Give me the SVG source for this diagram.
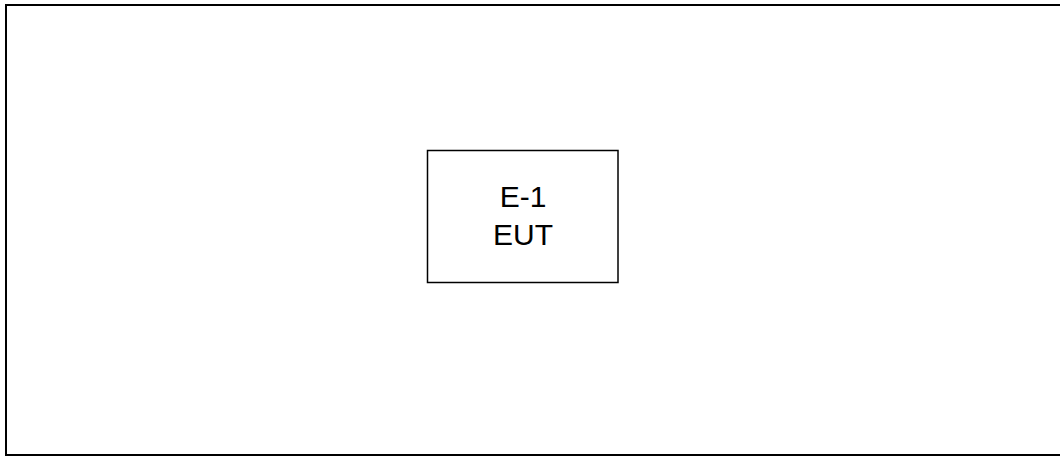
<svg xmlns="http://www.w3.org/2000/svg" width="1060" height="457" viewBox="0 0 1060 457">
<style>
.box{fill:#fff;stroke:#000;stroke-width:1.5}
.lbl{font-family:"Liberation Sans",Arial,sans-serif;font-size:30px;fill:#000;text-anchor:middle}
</style>
<rect width="1060" height="457" fill="#fff"/>
<g id="frame"><rect x="6" y="5" width="1060" height="450" fill="none" stroke="#000" stroke-width="2"/></g>
<g id="connectors"></g>
<g id="eut">
<rect class="box" x="427.5" y="150.5" width="190.5" height="132"/>
<text class="lbl" x="523" y="207">E-1</text>
<text class="lbl" x="523" y="245">EUT</text>
</g>
</svg>
